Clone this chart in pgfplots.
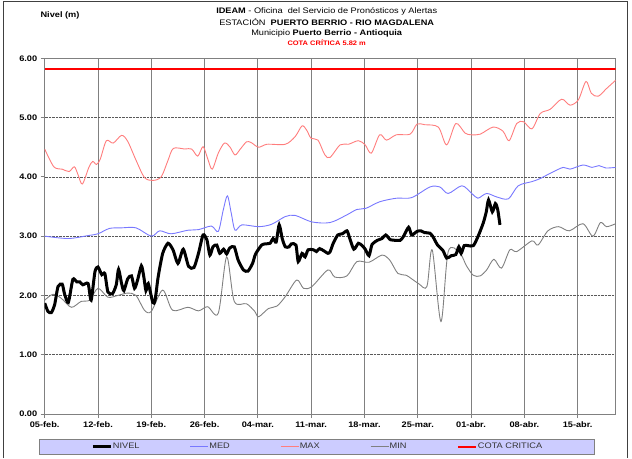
\documentclass[border=0pt]{standalone}
\usepackage{fontspec}
\setmainfont{Liberation Sans}[FakeStretch=1.15]
\usepackage{pgfplots}
\pgfplotsset{compat=1.18}
\definecolor{medc}{RGB}{120,120,255}
\definecolor{maxc}{RGB}{255,125,125}
\definecolor{minc}{RGB}{128,128,128}
\definecolor{legfill}{RGB}{204,204,255}

\pgfplotstableread{
d v
0 4.47
1.2 4.17
2.3 4.13
3.2 4.09
3.9 4.17
4.4 4.03
4.95 3.88
5.8 4.16
6.3 4.26
6.8 4.21
7.3 4.30
8.1 4.61
9.0 4.57
10.1 4.70
10.9 4.60
12.0 4.28
13.1 3.99
14.2 3.94
15.3 4.00
16.2 4.28
16.9 4.48
18.4 4.47
19.3 4.47
20.1 4.35
20.8 4.51
21.4 4.31
22.0 4.13
22.8 4.40
23.6 4.57
24.3 4.51
25.0 4.37
25.7 4.47
26.5 4.59
27.1 4.58
28.1 4.50
29.2 4.55
31.6 4.55
32.9 4.68
33.8 4.86
34.4 4.79
35.0 4.65
35.9 4.62
36.8 4.37
37.5 4.33
38.8 4.54
39.9 4.55
41.2 4.61
42.1 4.54
42.9 4.40
44.0 4.71
44.9 4.62
46.2 4.71
48.0 4.72
48.9 4.89
49.9 4.88
51.7 4.84
52.8 4.54
54.0 4.90
55.2 4.74
56.0 4.71
57.2 4.72
58.9 4.84
60.2 4.77
61.0 4.61
62.0 4.90
62.9 4.93
64.0 4.81
65.1 5.07
66.4 5.14
67.9 5.31
69.0 5.21
70.1 5.30
71.1 5.61
71.8 5.41
72.7 5.36
73.8 5.49
75.0 5.63
}\maxtab

\pgfplotstableread{
d v
0 3.00
3.1 2.96
5.7 3.01
7.0 3.04
8.5 3.13
10.1 3.14
12.0 3.14
14.0 3.00
15.1 3.09
16.6 3.04
18.8 3.10
20.2 3.11
21.9 3.17
22.8 3.08
23.45 3.44
24.0 3.68
24.5 3.39
25.0 3.10
25.9 3.19
28.1 3.16
29.8 3.20
31.6 3.33
32.9 3.35
35.1 3.24
37.5 3.23
39.7 3.36
41.0 3.45
42.2 3.47
44.0 3.58
46.2 3.64
48.2 3.65
50.6 3.83
51.9 3.83
53.0 3.72
54.8 3.85
56.1 3.72
56.9 3.64
58.05 3.72
59.4 3.66
60.9 3.63
62.2 3.85
64.0 3.92
65.05 3.97
66.4 4.06
68.1 4.16
69.0 4.13
70.7 4.20
71.9 4.16
72.8 4.19
73.7 4.15
75 4.16
}\medtab

\pgfplotstableread{
d v
0 1.92
1.1 2.02
2.2 1.95
3.5 1.80
4.8 1.90
5.9 1.92
7.0 2.12
8.3 1.97
9.6 2.00
10.9 2.04
12.0 2.00
13.1 1.75
14.0 1.73
15.5 2.09
16.8 1.75
18.8 1.80
20.2 1.74
21.4 1.81
22.8 1.70
23.9 2.65
24.9 1.90
26.5 1.86
27.6 1.73
28.1 1.64
29.4 1.78
30.5 1.82
31.6 1.98
33.1 2.26
34.0 2.12
35.1 2.15
37.2 2.43
38.1 2.31
39.7 2.33
41.0 2.57
42.6 2.56
44.3 2.68
45.3 2.60
46.4 2.37
47.5 2.34
49.1 2.20
50.2 2.15
50.9 2.77
52.05 1.56
53.0 2.74
54.5 2.72
55.4 2.50
56.3 2.34
57.2 2.33
58.05 2.43
59.0 2.61
60.0 2.46
61.1 2.77
62.0 2.74
64.0 2.92
64.8 2.85
66.1 3.09
67.5 3.16
68.9 3.09
70.7 3.21
72.0 3.00
73.0 3.23
73.8 3.16
75 3.21
}\mintab

\pgfplotstableread{
d v
0 1.87
0.43 1.73
0.87 1.71
1.3 1.84
1.75 2.15
2.3 2.19
2.6 2.03
3.1 1.88
3.7 2.27
4.2 2.23
4.6 2.23
5.0 2.18
5.7 2.20
6.1 1.92
6.6 2.40
7.0 2.48
7.5 2.35
7.9 2.37
8.3 2.06
8.9 2.03
9.4 2.18
9.7 2.44
10.1 2.20
10.4 2.08
10.9 2.28
11.4 2.33
11.8 2.12
12.2 2.26
12.7 2.50
13.0 2.33
13.3 2.08
13.6 2.20
14.2 1.88
14.5 1.92
14.9 2.31
15.5 2.71
16.2 2.88
16.85 2.77
17.5 2.54
18.2 2.78
18.9 2.49
19.6 2.47
20.2 2.71
20.8 3.02
21.3 2.94
21.7 2.68
22.1 2.82
22.6 2.85
23.0 2.71
23.5 2.78
23.9 2.70
24.3 2.80
24.9 2.82
25.4 2.60
26.1 2.43
26.7 2.41
27.3 2.54
27.7 2.70
28.5 2.85
29.0 2.87
29.6 2.88
30.0 2.96
30.4 2.90
30.8 3.19
31.2 2.96
31.6 2.82
32.1 2.82
32.4 2.87
33.0 2.85
33.3 2.57
33.8 2.71
34.2 2.65
34.6 2.77
35.3 2.77
35.7 2.74
36.1 2.79
36.7 2.75
37.2 2.71
37.5 2.74
37.9 2.88
38.5 3.02
39.1 3.04
39.7 3.09
40.0 2.99
40.6 2.78
41.2 2.88
41.7 2.84
42.1 2.78
42.6 2.67
43.0 2.86
43.7 2.93
44.3 2.96
44.8 3.02
45.4 2.94
46.1 2.93
46.7 2.93
47.1 2.99
47.8 3.15
48.2 3.02
48.9 3.08
49.4 3.09
49.9 3.06
50.6 3.05
51.0 2.99
51.6 2.85
52.3 2.76
52.8 2.63
53.4 2.67
54.0 2.69
54.4 2.82
54.7 2.71
55.1 2.84
55.6 2.84
56.3 2.84
56.9 2.99
57.6 3.22
58.0 3.41
58.3 3.61
58.8 3.41
59.2 3.55
59.5 3.45
59.8 3.19
}\niveltab

\begin{document}
\begin{tikzpicture}
\useasboundingbox (-44.7pt,-44pt) rectangle (587.3pt,414pt);
\begin{axis}[
  scale only axis, width=571pt, height=355.7pt,
  xmin=0, xmax=75, ymin=0, ymax=6,
  xtick={0,7,...,70},
  xticklabels={05-feb.,12-feb.,19-feb.,26-feb.,04-mar.,11-mar.,18-mar.,25-mar.,01-abr.,08-abr.,15-abr.},
  ytick={0,1,2,3,4,5,6},
  yticklabels={0.00,1.00,2.00,3.00,4.00,5.00,6.00},
  ticklabel style={font=\bfseries\fontsize{8}{9.6}\selectfont},
  tick align=outside, tick pos=left,
  major tick length=4pt,
  tick style={gray, line width=0.8pt},
  axis line style={gray, line width=0.8pt},
  xmajorgrids, ymajorgrids,
  major x grid style={gray, line width=0.9pt},
  major y grid style={black!65, densely dotted, line width=0.5pt},
  legend columns=5,
  reverse legend,
  legend style={at={(0.477,-0.0703)}, anchor=north, fill=legfill, draw=gray, line width=0.8pt,
    font=\fontsize{8}{9.6}\selectfont, text=black!80, inner xsep=52pt, inner ysep=2pt,
    nodes={inner xsep=0.5pt},
    /tikz/every odd column/.append style={column sep=0pt},
    /tikz/every even column/.append style={column sep=50pt}},
  legend cell align=left,
  legend image code/.code={\draw[#1] (0pt,0pt) -- (18pt,0pt);},
]
\addplot[red, line width=2.5pt] coordinates {(0,5.82) (75,5.82)};
\addlegendentry{COTA CRITICA}
\addplot[minc, line width=0.9pt, smooth] table[x=d,y=v] {\mintab};
\addlegendentry{MIN}
\addplot[maxc, line width=0.9pt, smooth] table[x=d,y=v] {\maxtab};
\addlegendentry{MAX}
\addplot[medc, line width=0.9pt, smooth] table[x=d,y=v] {\medtab};
\addlegendentry{MED}
\addplot[black, line width=3pt, smooth, tension=0.4] table[x=d,y=v] {\niveltab};
\addlegendentry{NIVEL}
\end{axis}
\draw[black!75, line width=0.8pt] (-41.7pt,-44pt) -- (-41.7pt,413pt) -- (582.3pt,413pt) -- (582.3pt,-44pt);
\node[font=\fontsize{8}{9.6}\selectfont] at (282pt,403pt) {\textbf{IDEAM} - Oficina\ \ del Servicio de Pronósticos y Alertas};
\node[font=\fontsize{8}{9.6}\selectfont] at (282pt,391.5pt) {ESTACIÓN\ \ \textbf{PUERTO BERRIO - RIO MAGDALENA}};
\node[font=\fontsize{8}{9.6}\selectfont] at (282pt,380.5pt) {Municipio \textbf{Puerto Berrio - Antioquia}};
\node[red, font=\bfseries\fontsize{6.5}{7.5}\selectfont] at (282pt,371pt) {COTA CRÍTICA 5.82 m};
\node[font=\bfseries\fontsize{8}{9.6}\selectfont] at (15.3pt,399pt) {Nivel (m)};
\end{tikzpicture}
\end{document}
